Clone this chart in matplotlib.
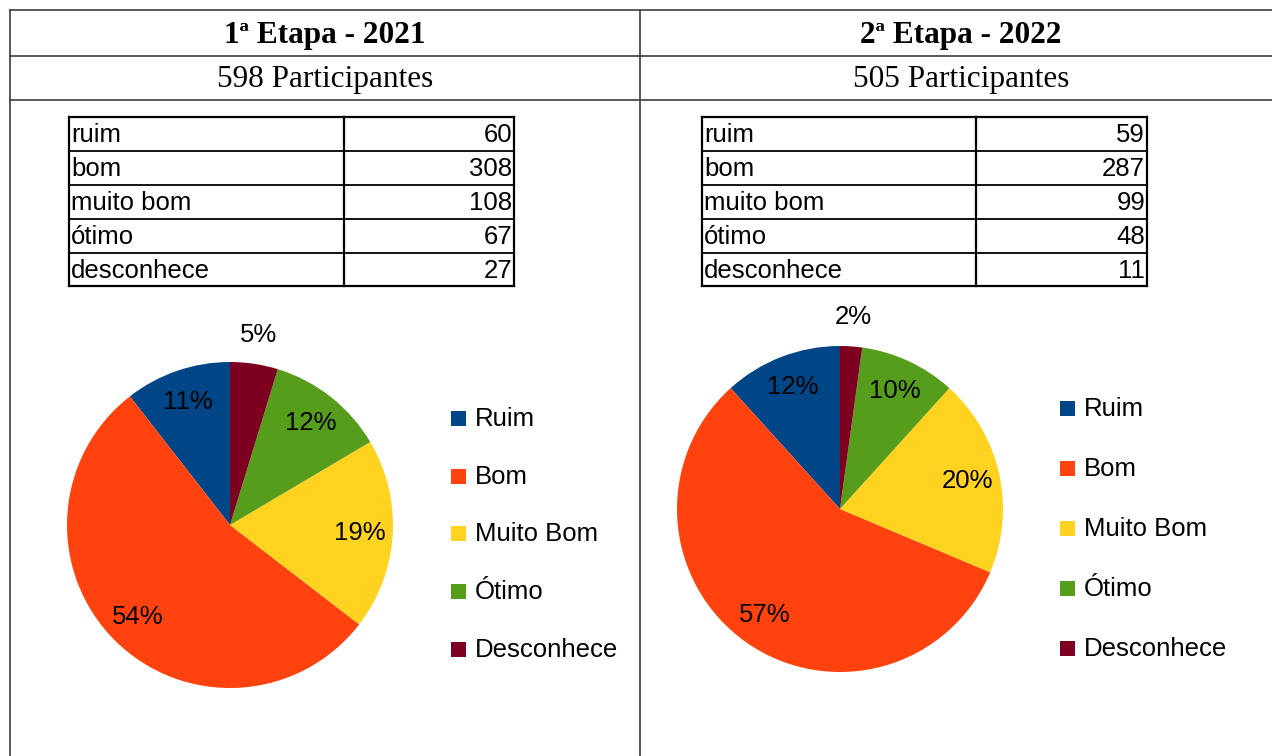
import matplotlib
matplotlib.use("Agg")
import matplotlib.pyplot as plt
from matplotlib.patches import Rectangle
import numpy as np

W, H = 1272, 756

titles = ["1ª Etapa - 2021", "2ª Etapa - 2022"]
participants = ["598 Participantes", "505 Participantes"]
table_labels = ["ruim", "bom", "muito bom", "ótimo", "desconhece"]
values_2021 = [60, 308, 108, 67, 27]
values_2022 = [59, 287, 99, 48, 11]
legend_labels = ["Ruim", "Bom", "Muito Bom", "Ótimo", "Desconhece"]
colors = ["#004586", "#ff420e", "#ffd320", "#579d1c", "#7e0021"]

SANS = ["Liberation Sans", "DejaVu Sans"]
SERIF = ["Liberation Serif", "DejaVu Serif"]

fig = plt.figure(figsize=(W / 100, H / 100), dpi=100)
ov = fig.add_axes([0, 0, 1, 1])
ov.set_xlim(0, W)
ov.set_ylim(H, 0)
ov.axis("off")

lc = "#3c3c3c"
# outer grid
ov.plot([10, W], [10, 10], color=lc, lw=1.2)
ov.plot([10, W], [56, 56], color=lc, lw=1.2)
ov.plot([10, W], [100, 100], color=lc, lw=1.2)
ov.plot([10, 10], [10, H], color=lc, lw=1.2)
ov.plot([640, 640], [10, H], color=lc, lw=1.2)

panels = [
    dict(cx=325, tab=(69, 344, 514), pie=(230, 525), leg=(451, [418, 476, 533, 591, 649]),
         vals=values_2021),
    dict(cx=961, tab=(702, 976, 1147), pie=(840, 509), leg=(1060, [408, 468, 528, 588, 648]),
         vals=values_2022),
]
row_y = [117, 151, 185, 219, 253, 286]
R = 163

for i, p in enumerate(panels):
    cx = p["cx"]
    ov.text(cx, 36, titles[i], ha="center", va="center", fontsize=22.5,
            fontweight="bold", family=SERIF)
    ov.text(cx, 80, participants[i], ha="center", va="center", fontsize=22.5,
            family=SERIF)

    # table
    tx0, tsplit, tx1 = p["tab"]
    for k, yv in enumerate(row_y):
        ov.plot([tx0, tx1], [yv, yv], color="black", lw=1.6 if k in (0, 5) else 1.3)
    for xv in (tx0, tsplit, tx1):
        ov.plot([xv, xv], [row_y[0], row_y[-1]], color="black", lw=1.6)
    for k, (lab, v) in enumerate(zip(table_labels, p["vals"])):
        ym = (row_y[k] + row_y[k + 1]) / 2 + 1
        ov.text(tx0 + 2, ym, lab, ha="left", va="center", fontsize=18.5, family=SANS)
        ov.text(tx1 - 2, ym, str(v), ha="right", va="center", fontsize=18.5, family=SANS)

    # legend
    lx, lys = p["leg"]
    for lab, col, ly in zip(legend_labels, colors, lys):
        ov.add_patch(Rectangle((lx, ly - 7.5), 15, 15, facecolor=col, edgecolor="none"))
        ov.text(lx + 24, ly + 1, lab, ha="left", va="center", fontsize=18.5, family=SANS)

    # pie
    pcx, pcy = p["pie"]
    pax = fig.add_axes([(pcx - R) / W, (H - pcy - R) / H, 2 * R / W, 2 * R / H])
    vals = np.array(p["vals"], dtype=float)
    wedges, _ = pax.pie(vals, colors=colors, startangle=90, counterclock=True,
                        wedgeprops=dict(linewidth=0))
    pax.set_xlim(-1, 1)
    pax.set_ylim(-1, 1)
    pax.set_aspect("equal")
    pax.axis("off")
    total = vals.sum()
    for w, v in zip(wedges, vals):
        frac = v / total
        mid = np.deg2rad((w.theta1 + w.theta2) / 2)
        d = 1.18 if frac < 0.06 else 0.8
        pax.text(d * np.cos(mid), d * np.sin(mid), f"{round(frac * 100):.0f}%",
                 ha="center", va="center", fontsize=18.5, family=SANS, clip_on=False)

fig.savefig("out.png", dpi=100)
